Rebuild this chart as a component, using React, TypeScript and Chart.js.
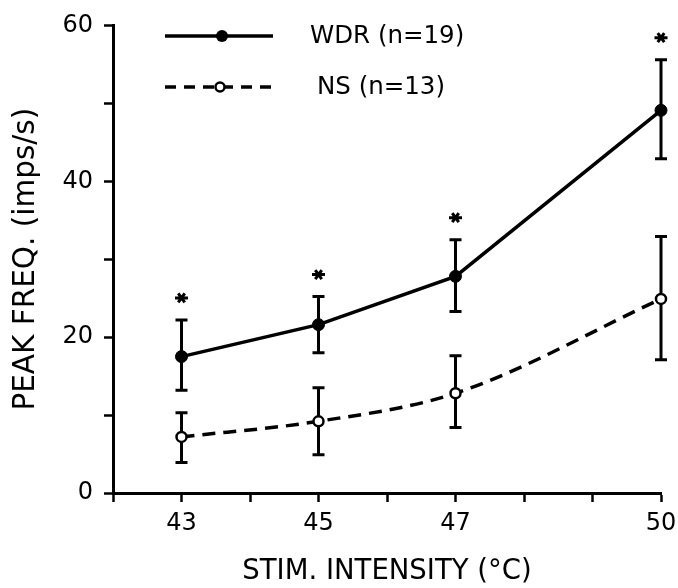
import React, { useEffect, useRef } from "react";
import { Chart, registerables } from "chart.js";

Chart.register(...registerables);

// ---- data ----
const stimTemps = [43, 45, 47, 50];
const xTickLabels = [43, 45, 47, 50];
const yTickLabels = [0, 20, 40, 60];

const wdrMean = [17.5, 21.6, 27.8, 49.1];
const wdrUpper = [22.2, 25.2, 32.5, 55.6];
const wdrLower = [13.2, 18.0, 23.3, 42.9];
const wdrSignificant = [true, true, true, true];

const nsMean = [7.2, 9.2, 12.8, 24.9];
const nsUpper = [10.3, 13.5, 17.6, 32.9];
const nsLower = [3.9, 4.9, 8.4, 17.1];

const wdrLabel = "WDR (n=19)";
const nsLabel = "NS (n=13)";
const xTitle = "STIM. INTENSITY (°C)";
const yTitle = "PEAK FREQ. (imps/s)";

const FONT = "'DejaVu Sans', sans-serif";
const BLACK = "#000";

const errorBarPlugin = {
  id: "errorBars",
  beforeDatasetsDraw(chart: any) {
    const { ctx, scales } = chart;
    const xs = scales.x;
    const ys = scales.y;
    ctx.save();
    ctx.strokeStyle = BLACK;
    ctx.lineWidth = 3;
    ctx.lineCap = "butt";
    ctx.setLineDash([]);
    const drawSet = (upper: number[], lower: number[]) => {
      stimTemps.forEach((t, i) => {
        const px = xs.getPixelForValue(t);
        const pu = ys.getPixelForValue(upper[i]);
        const pl = ys.getPixelForValue(lower[i]);
        ctx.beginPath();
        ctx.moveTo(px, pu);
        ctx.lineTo(px, pl);
        ctx.moveTo(px - 6, pu);
        ctx.lineTo(px + 6, pu);
        ctx.moveTo(px - 6, pl);
        ctx.lineTo(px + 6, pl);
        ctx.stroke();
      });
    };
    drawSet(wdrUpper, wdrLower);
    drawSet(nsUpper, nsLower);
    // asterisks
    ctx.lineWidth = 3;
    stimTemps.forEach((t, i) => {
      if (!wdrSignificant[i]) return;
      const px = xs.getPixelForValue(t);
      const py = ys.getPixelForValue(wdrUpper[i]) - 22;
      const r = 6.5;
      ctx.beginPath();
      [0, 60, 120].forEach((deg) => {
        const a = (deg * Math.PI) / 180;
        ctx.moveTo(px - r * Math.cos(a), py - r * Math.sin(a) * 0.8);
        ctx.lineTo(px + r * Math.cos(a), py + r * Math.sin(a) * 0.8);
      });
      ctx.stroke();
    });
    ctx.restore();
  },
};

const legendPlugin = {
  id: "customLegend",
  afterDraw(chart: any) {
    const { ctx } = chart;
    ctx.save();
    ctx.strokeStyle = BLACK;
    ctx.lineWidth = 3.5;
    // WDR
    ctx.setLineDash([]);
    ctx.beginPath();
    ctx.moveTo(165, 36);
    ctx.lineTo(273, 36);
    ctx.stroke();
    ctx.beginPath();
    ctx.arc(222, 36, 6, 0, Math.PI * 2);
    ctx.fillStyle = BLACK;
    ctx.fill();
    // NS
    ctx.lineWidth = 3.5;
    ctx.setLineDash([11, 8]);
    ctx.beginPath();
    ctx.moveTo(165, 87);
    ctx.lineTo(273, 87);
    ctx.stroke();
    ctx.setLineDash([]);
    ctx.beginPath();
    ctx.arc(220, 87, 4.5, 0, Math.PI * 2);
    ctx.fillStyle = "#fff";
    ctx.fill();
    ctx.lineWidth = 2.5;
    ctx.stroke();
    ctx.fillStyle = BLACK;
    ctx.font = `24.5px ${FONT}`;
    ctx.textBaseline = "middle";
    ctx.textAlign = "left";
    ctx.fillText(wdrLabel, 310, 37);
    ctx.fillText(nsLabel, 317, 88);
    ctx.restore();
  },
};

export default function App() {
  const canvasRef = useRef<HTMLCanvasElement | null>(null);

  useEffect(() => {
    if (!canvasRef.current) return;
    const chart = new Chart(canvasRef.current, {
      type: "line",
      data: {
        datasets: [
          {
            label: wdrLabel,
            data: stimTemps.map((t, i) => ({ x: t, y: wdrMean[i] })),
            borderColor: BLACK,
            borderWidth: 3.5,
            tension: 0,
            clip: false,
            pointRadius: 6,
            pointBackgroundColor: BLACK,
            pointBorderColor: BLACK,
            pointBorderWidth: 1,
          },
          {
            label: nsLabel,
            data: stimTemps.map((t, i) => ({ x: t, y: nsMean[i] })),
            borderColor: BLACK,
            borderWidth: 3.5,
            borderDash: [13, 8],
            cubicInterpolationMode: "monotone",
            clip: false,
            pointRadius: 5,
            pointBackgroundColor: "#fff",
            pointBorderColor: BLACK,
            pointBorderWidth: 2.5,
          },
        ],
      },
      options: {
        animation: false,
        responsive: true,
        maintainAspectRatio: false,
        layout: { padding: { top: 19, right: 17, left: 0, bottom: 0 } },
        plugins: {
          legend: { display: false },
          tooltip: { enabled: false },
        },
        scales: {
          x: {
            type: "linear",
            min: 42,
            max: 50,
            afterFit(scale: any) {
              scale.height = 95;
              scale.paddingRight = 0;
              scale.paddingLeft = 0;
            },
            border: { display: true, color: BLACK, width: 3 },
            grid: {
              drawOnChartArea: false,
              drawTicks: true,
              tickLength: 9,
              tickWidth: 2.5,
              tickColor: BLACK,
            },
            ticks: {
              stepSize: 1,
              autoSkip: false,
              maxRotation: 0,
              padding: 7,
              color: BLACK,
              font: { family: FONT, size: 24 },
              callback: (v: any) => (xTickLabels.includes(Number(v)) ? String(v) : ""),
            },
            title: {
              display: true,
              text: xTitle,
              color: BLACK,
              font: { family: FONT, size: 27.5 },
              padding: { top: 0, bottom: 0 },
            },
          },
          y: {
            min: 0,
            max: 60,
            afterFit(scale: any) {
              scale.width = 113;
            },
            border: { display: true, color: BLACK, width: 3 },
            grid: {
              drawOnChartArea: false,
              drawTicks: true,
              tickLength: 9,
              tickWidth: 2.5,
              tickColor: BLACK,
            },
            ticks: {
              stepSize: 10,
              autoSkip: false,
              padding: 11,
              color: BLACK,
              font: { family: FONT, size: 24 },
              callback: (v: any) => (yTickLabels.includes(Number(v)) ? String(v) : ""),
            },
            title: {
              display: true,
              text: yTitle,
              color: BLACK,
              font: { family: FONT, size: 29.5 },
              padding: { top: 9, bottom: 0 },
            },
          },
        },
      },
      plugins: [errorBarPlugin, legendPlugin],
    });
    return () => chart.destroy();
  }, []);

  return (
    <div style={{ position: "absolute", left: 0, top: 0, width: 678, height: 588, background: "#fff" }}>
      <canvas ref={canvasRef} />
    </div>
  );
}
